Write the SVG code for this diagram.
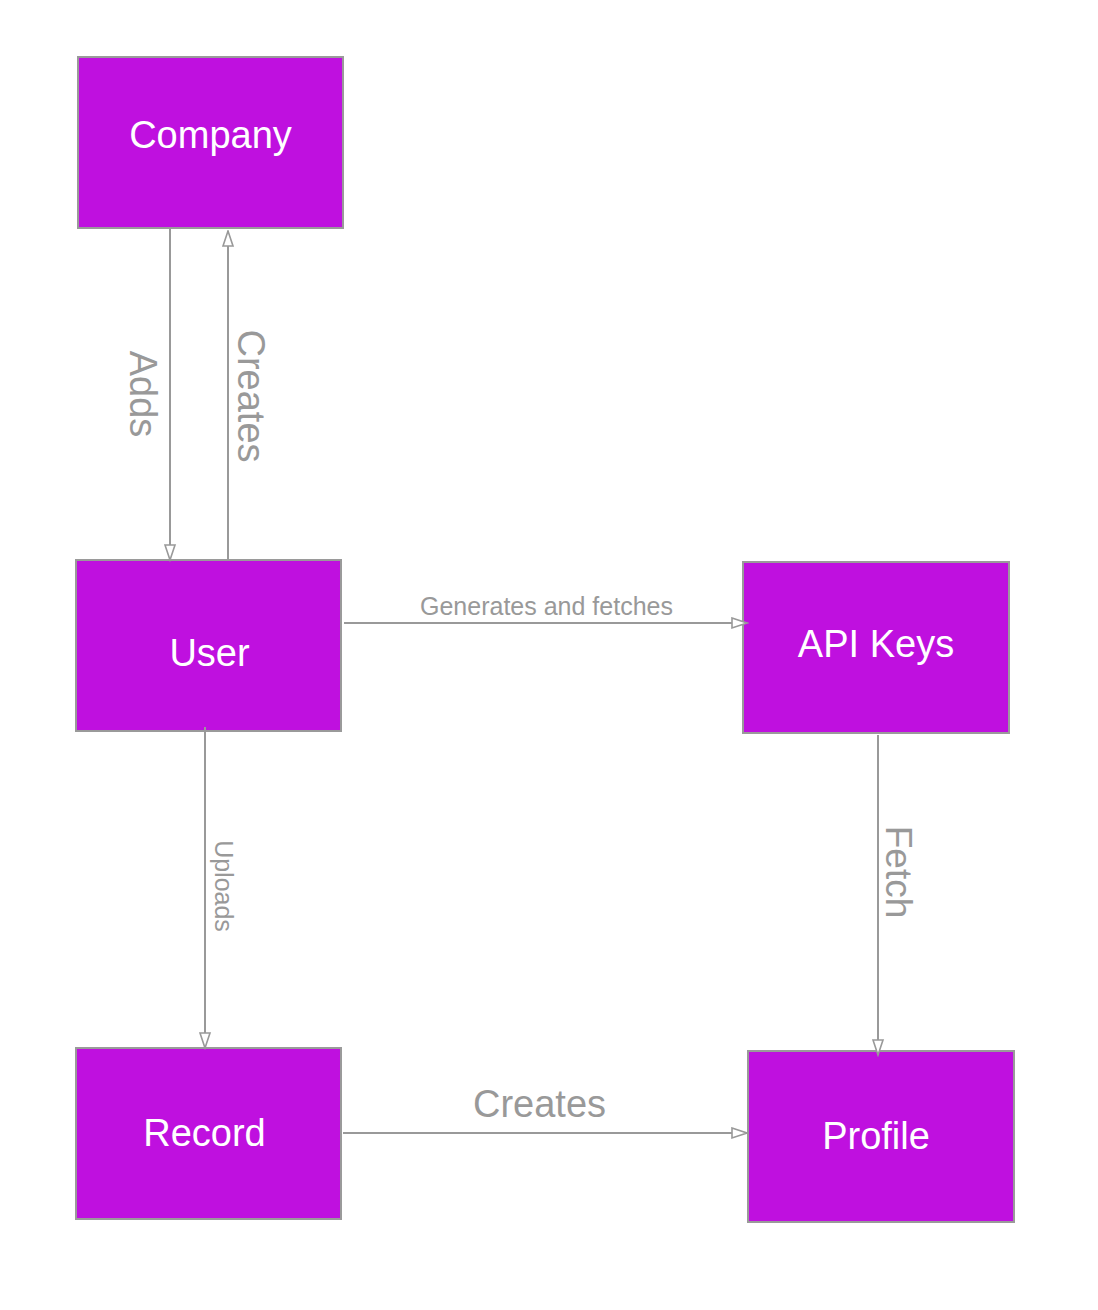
<svg xmlns="http://www.w3.org/2000/svg" width="1098" height="1310" viewBox="0 0 1098 1310">
<style>
.node rect{fill:#BF10DF;stroke:#9a9a9a;stroke-width:2}
.node text{fill:#ffffff;font-family:"Liberation Sans",Arial,sans-serif;font-size:38px;text-anchor:middle}
.edge{stroke:#999999;stroke-width:2;fill:none;marker-end:url(#arr)}
.lbl{fill:#999999;font-family:"Liberation Sans",Arial,sans-serif;text-anchor:middle}
</style>
<defs>
<marker id="arr" markerUnits="userSpaceOnUse" markerWidth="18" markerHeight="13" refX="15" refY="5" orient="auto" viewBox="-1.5 -1.5 18 13">
<path d="M0,0 L15,5 L0,10 Z" fill="#ffffff" stroke="#999999" stroke-width="1.6"/>
</marker>
</defs>
<rect width="1098" height="1310" fill="#ffffff"/>
<g id="company" class="node"><rect x="78" y="57" width="265" height="171"/><text x="210.5" y="148">Company</text></g>
<g id="user" class="node"><rect x="76" y="560" width="265" height="171"/><text x="209.5" y="666">User</text></g>
<g id="apikeys" class="node"><rect x="743" y="562" width="266" height="171"/><text x="876" y="657">API Keys</text></g>
<g id="record" class="node"><rect x="76" y="1048" width="265" height="171"/><text x="204.5" y="1146">Record</text></g>
<g id="profile" class="node"><rect x="748" y="1051" width="266" height="171"/><text x="876" y="1149">Profile</text></g>
<g id="connectors">
<line class="edge" x1="170" y1="229" x2="170" y2="560"/>
<line class="edge" x1="228" y1="559" x2="228" y2="231"/>
<line class="edge" x1="344" y1="623" x2="747" y2="623"/>
<line class="edge" x1="205" y1="727" x2="205" y2="1048"/>
<line class="edge" x1="878" y1="735" x2="878" y2="1055"/>
<line class="edge" x1="343" y1="1133" x2="747" y2="1133"/>
<text class="lbl" font-size="38" transform="translate(130,394) rotate(90)">Adds</text>
<text class="lbl" font-size="38" transform="translate(238,396) rotate(90)">Creates</text>
<text class="lbl" font-size="25" x="546.5" y="615">Generates and fetches</text>
<text class="lbl" font-size="25" transform="translate(215,886) rotate(90)">Uploads</text>
<text class="lbl" font-size="37" transform="translate(886,872) rotate(90)">Fetch</text>
<text class="lbl" font-size="38" x="539.5" y="1117">Creates</text>
</g>
</svg>
